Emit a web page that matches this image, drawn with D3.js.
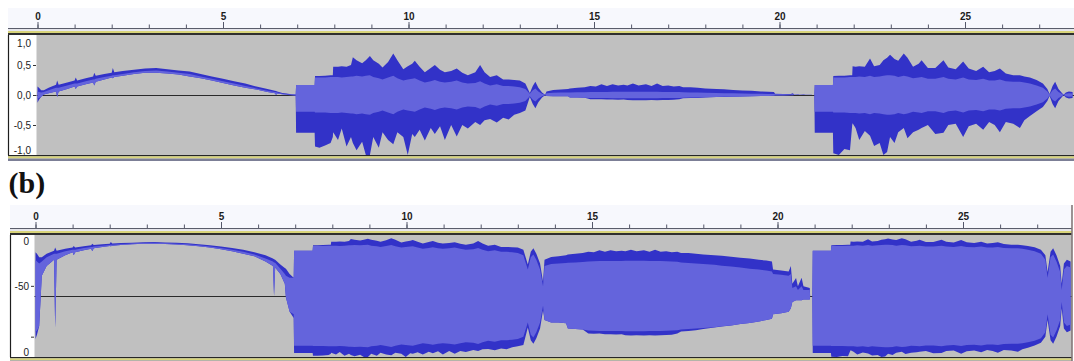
<!DOCTYPE html>
<html>
<head>
<meta charset="utf-8">
<script src="https://cdn.jsdelivr.net/npm/d3@7"></script>
<style>
  html, body { margin: 0; padding: 0; background: #ffffff; }
  svg { display: block; }
</style>
</head>
<body>
<svg id="chart" width="1074" height="361"></svg>
<script>
// ---- Recording envelope: one row per time column (seconds) ----
// peak maximum / minimum sample and RMS level, linear amplitude (-1..1)
const timeSec = [
  0.00,0.04,0.10,0.17,0.30,0.50,0.53,0.57,0.80,1.00,1.03,1.07,1.30,1.50,1.53,1.57,1.80,2.00,2.03,2.07,2.30,2.60,2.90,3.20,3.50,3.80,4.10,4.40,4.70,5.00,5.30,5.60,5.90,6.20,6.40,6.43,6.46,6.60,6.72,6.75,6.85,6.96,
  6.97,7.47,7.48,7.60,7.75,7.90,7.96,7.97,8.10,8.20,8.33,8.45,8.50,8.60,8.75,8.85,8.96,9.05,9.20,9.30,9.45,9.59,9.70,9.86,9.98,10.10,10.17,10.30,10.44,10.60,10.71,10.85,10.98,11.15,11.30,11.45,11.60,11.80,11.93,12.05,12.20,12.38,12.55,12.70,12.85,13.00,13.15,13.27,13.35,13.42,13.50,13.60,13.68,
  13.72,13.90,14.10,14.30,14.35,14.55,14.75,14.90,15.05,15.20,15.35,15.50,15.65,15.80,15.90,16.05,16.20,16.40,16.55,16.70,16.85,17.00,17.15,17.30,17.40,17.60,17.80,18.00,18.30,18.50,18.75,19.00,19.25,19.50,19.70,19.85,19.88,20.10,20.30,20.36,20.40,20.50,20.55,20.65,20.70,20.87,20.88,20.94,
  20.95,21.44,21.45,21.60,21.75,21.90,21.96,21.97,22.05,22.15,22.30,22.44,22.55,22.70,22.80,22.90,22.98,23.10,23.20,23.35,23.45,23.60,23.75,23.83,24.00,24.20,24.42,24.55,24.75,24.95,25.10,25.30,25.49,25.65,25.80,25.94,26.10,26.30,26.48,26.60,26.75,26.93,27.10,27.22,27.28,27.36,27.43,27.52,27.62,27.66,27.72,27.80,27.90
];
const peakMax = [
  .14,.12,.08,.08,.12,.17,.24,.17,.21,.24,.29,.24,.28,.31,.37,.32,.35,.37,.45,.38,.40,.42,.44,.45,.43,.41,.39,.35,.31,.27,.23,.19,.14,.10,.07,.065,.06,.035,.024,.022,.012,.008,
  .167,.167,.317,.317,.32,.33,.33,.47,.47,.48,.47,.50,.63,.58,.53,.58,.65,.58,.52,.46,.55,.69,.58,.43,.48,.52,.57,.47,.38,.45,.50,.42,.38,.40,.44,.37,.33,.38,.50,.38,.30,.33,.26,.26,.25,.24,.19,.035,.15,.22,.12,.04,.005,
  .06,.083,.09,.10,.11,.12,.13,.15,.14,.18,.15,.18,.16,.17,.16,.19,.16,.18,.15,.19,.15,.16,.14,.15,.13,.13,.12,.11,.10,.095,.085,.075,.07,.06,.055,.05,.02,.018,.016,.03,.004,.0077,.003,.0078,.003,.0025,0,0,
  .167,.167,.317,.32,.32,.33,.33,.48,.47,.48,.47,.61,.48,.50,.58,.62,.67,.60,.57,.69,.62,.47,.52,.58,.45,.45,.58,.46,.43,.56,.44,.40,.47,.38,.40,.44,.36,.33,.33,.31,.29,.25,.19,.10,.015,.15,.22,.10,.03,.004,.04,.06,.05
];
const peakMin = [
  -.13,-.08,-.03,.01,.03,.06,-.035,.06,.10,.14,.10,.14,.18,.21,.16,.22,.26,.29,.28,.30,.32,.35,.37,.37,.36,.34,.31,.28,.24,.20,.16,.12,.09,.05,.03,.0008,.025,.012,.004,-.0012,-.006,-.012,
  -.63,-.63,-.86,-.88,-.84,-.80,-.70,-.62,-.75,-.56,-.86,-.70,-.80,-.92,-.78,-1.0,-1.0,-.70,-.88,-.62,-.75,-.82,-.62,-.70,-1.0,-.65,-.70,-.58,-.76,-.55,-.65,-.52,-.75,-.50,-.69,-.50,-.56,-.45,-.50,-.42,-.40,-.46,-.38,-.41,-.33,-.30,-.26,-.035,-.15,-.22,-.12,-.04,-.005,
  -.015,-.02,-.02,-.022,-.04,-.042,-.045,-.07,-.072,-.07,-.075,-.075,-.078,-.076,-.085,-.088,-.086,-.088,-.085,-.088,-.084,-.082,-.08,-.07,-.055,-.052,-.048,-.042,-.035,-.032,-.028,-.024,-.021,-.018,-.015,-.013,-.008,-.007,-.006,-.004,-.002,-.0016,-.0016,-.0016,-.0015,-.0015,0,0,
  -.63,-.63,-.97,-1.0,-.90,-.92,-.50,-.47,-.55,-.75,-.60,-.68,-.85,-.80,-1.0,-.95,-.70,-.80,-.62,-.55,-.72,-.62,-.58,-.55,-.50,-.65,-.63,-.50,-.48,-.70,-.52,-.48,-.58,-.45,-.50,-.62,-.45,-.48,-.55,-.42,-.35,-.27,-.20,-.10,-.015,-.15,-.22,-.10,-.03,-.004,-.04,-.06,-.05
];
const rmsLevel = [
  .06,.05,.04,.05,.08,.12,.12,.12,.16,.19,.19,.19,.23,.26,.26,.27,.30,.32,.33,.33,.35,.38,.40,.41,.39,.37,.35,.31,.27,.23,.19,.15,.11,.07,.05,.045,.043,.022,.012,.01,.008,.008,
  .28,.28,.29,.29,.29,.30,.30,.30,.30,.29,.30,.31,.31,.32,.31,.32,.33,.30,.28,.26,.29,.32,.28,.24,.26,.27,.28,.24,.21,.23,.25,.22,.21,.22,.24,.21,.19,.20,.23,.19,.16,.18,.15,.15,.14,.13,.10,.02,.08,.11,.06,.02,.003,
  .03,.038,.04,.042,.043,.045,.047,.05,.051,.052,.052,.053,.053,.053,.054,.054,.054,.054,.053,.053,.052,.051,.05,.048,.045,.042,.04,.037,.034,.031,.028,.025,.022,.02,.018,.016,.012,.011,.01,.012,.0025,.003,.002,.003,.002,.002,0,0,
  .28,.28,.29,.29,.29,.30,.30,.30,.30,.31,.30,.32,.30,.31,.32,.33,.33,.32,.30,.32,.31,.28,.29,.30,.27,.27,.30,.27,.26,.29,.26,.25,.27,.24,.24,.26,.23,.22,.22,.21,.19,.16,.12,.06,.008,.08,.11,.05,.015,.002,.02,.03,.025
];

// ---- Axis ticks ----
const rulerSeconds = d3.range(0, 28);          // one tick per second
const rulerLabels = [0, 5, 10, 15, 20, 25];    // labelled seconds
const linearTicks = [1, 0.5, 0, -0.5, -1];
const dbTickLevels = [0, -50, -20, 0];         // dB
const dbTickSides  = [1, 1, -1, -1];           // upper / lower half
const dbTickLabels = ["0", "-50", "", "0"];
const dbFloor = -60;

// ---- Layout / style ----
const W = 1074;
const pxPerSec = 37.1;
const colPeak = "#3232c8";
const colRms = "#6464dc";
const colWaveBg = "#c0c0c0";
const colRulerBg = "#f7f8fd";
const uiFont = "'Liberation Sans', Arial, sans-serif";

const panels = [
  { key: "lin", x0: 37.5, rulerTop: 8, rulerBase: 28, waveTop: 35, waveBottom: 155,
    gutterLeft: 8, waveLeft: 36.5, waveRight: W, closed: false, mode: "linear" },
  { key: "db", x0: 35.5, rulerTop: 205, rulerBase: 228, waveTop: 235, waveBottom: 357,
    gutterLeft: 10, waveLeft: 34.5, waveRight: 1071.5, closed: true, mode: "db" }
];

const svg = d3.select("#chart");
const defs = svg.append("defs");

const rows = timeSec.map((t, i) => ({ t, hi: peakMax[i], lo: peakMin[i], rms: rmsLevel[i] }));

const commaFmt = d3.formatLocale({ decimal: ",", thousands: ".", grouping: [3], currency: ["", ""], minus: "-" }).format(".1f");

panels.forEach(p => {
  const g = svg.append("g").attr("class", "panel-" + p.key);
  const x = d3.scaleLinear().domain([0, 27]).range([p.x0, p.x0 + 27 * pxPerSec]);

  // ruler background
  g.append("rect").attr("x", p.gutterLeft).attr("y", p.rulerTop)
    .attr("width", p.waveRight - p.gutterLeft).attr("height", p.rulerBase - p.rulerTop)
    .attr("fill", colRulerBg);

  // minor ruler ticks
  const minor = g.append("g").attr("transform", `translate(0,${p.rulerBase})`)
    .call(d3.axisTop(x).tickValues(rulerSeconds).tickSize(3.5).tickFormat(""));
  minor.select(".domain").remove();
  minor.selectAll(".tick line").attr("stroke", "#55586a");

  // labelled ruler ticks
  const major = g.append("g").attr("transform", `translate(0,${p.rulerBase})`)
    .call(d3.axisTop(x).tickValues(rulerLabels).tickSize(6).tickPadding(2).tickFormat(d3.format("d")));
  major.select(".domain").remove();
  major.selectAll(".tick line").attr("stroke", "#55586a");
  major.selectAll(".tick text").attr("font-family", uiFont).attr("font-size", 10)
    .attr("font-weight", "bold").attr("fill", "#1c1c1c");

  // separator bands under the ruler
  const bandsTop = [[0, 1.2, "#5a5d6b"], [1.2, 1.8, "#e6e6ee"], [3, 2, "#d8d47a"], [5, 2, "#2e2e2e"]];
  bandsTop.forEach(([dy, h, c]) => {
    g.append("rect").attr("x", p.gutterLeft).attr("y", p.rulerBase + dy)
      .attr("width", p.waveRight - p.gutterLeft).attr("height", h).attr("fill", c);
  });
  const bandsBottom = [[0, 1.4, "#262626"], [1.4, 2.1, "#d8d47a"], [3.5, 2.5, "#7c7f96"]];
  bandsBottom.forEach(([dy, h, c]) => {
    g.append("rect").attr("x", p.gutterLeft).attr("y", p.waveBottom + dy)
      .attr("width", p.waveRight - p.gutterLeft).attr("height", h).attr("fill", c);
  });

  // label gutter and wave background
  g.append("rect").attr("x", p.gutterLeft).attr("y", p.waveTop)
    .attr("width", p.waveLeft - p.gutterLeft).attr("height", p.waveBottom - p.waveTop)
    .attr("fill", "#ffffff");
  g.append("line").attr("x1", p.gutterLeft + 0.5).attr("x2", p.gutterLeft + 0.5)
    .attr("y1", p.waveTop).attr("y2", p.waveBottom).attr("stroke", "#1e1e1e").attr("stroke-width", 1.2);
  g.append("rect").attr("x", p.waveLeft).attr("y", p.waveTop)
    .attr("width", p.waveRight - p.waveLeft).attr("height", p.waveBottom - p.waveTop)
    .attr("fill", colWaveBg);

  // vertical scale: linear amplitude or dB-folded amplitude
  const yNorm = d3.scaleLinear().domain([-1, 1]).range([p.waveBottom, p.waveTop]);
  const dbNorm = d3.scaleLinear().domain([dbFloor, 0]).range([0, 1]).clamp(true);
  const Y = p.mode === "linear"
    ? (v => yNorm(Math.max(-1, Math.min(1, v))))
    : (v => v === 0 ? yNorm(0) : yNorm(Math.sign(v) * dbNorm(20 * Math.log10(Math.abs(v)))));

  // centre line
  g.append("line").attr("x1", p.waveLeft).attr("x2", p.waveRight)
    .attr("y1", Math.round(yNorm(0)) + 0.5).attr("y2", Math.round(yNorm(0)) + 0.5)
    .attr("stroke", "#2a2a2a").attr("stroke-width", 1);

  // waveform
  const clipId = "clip-" + p.key;
  defs.append("clipPath").attr("id", clipId).append("rect")
    .attr("x", p.waveLeft).attr("y", p.waveTop)
    .attr("width", p.waveRight - p.waveLeft).attr("height", p.waveBottom - p.waveTop);
  const wave = g.append("g").attr("clip-path", `url(#${clipId})`);

  const peakArea = d3.area().x(d => x(d.t)).y0(d => Y(d.lo)).y1(d => Y(d.hi));
  const rmsArea = d3.area().x(d => x(d.t))
    .y0(d => { const lo = Math.max(d.lo, -d.rms); const hi = Math.min(d.hi, d.rms); return Y(Math.min(lo, hi)); })
    .y1(d => Y(Math.min(d.hi, d.rms)));

  wave.append("path").datum(rows).attr("d", peakArea).attr("fill", colPeak);
  wave.append("path").datum(rows).attr("d", rmsArea).attr("fill", colRms);

  // vertical axis
  const axisG = g.append("g").attr("transform", `translate(${p.waveLeft - 0.5},0)`)
    .attr("font-family", uiFont);
  if (p.mode === "linear") {
    const ax = d3.axisLeft(yNorm).tickValues(linearTicks).tickSize(3).tickPadding(2).tickFormat(commaFmt);
    axisG.call(ax);
    axisG.selectAll(".tick").each(function (d) {
      const t = d3.select(this);
      if (Math.abs(d) === 1) {
        t.select("line").remove();
        t.select("text").attr("dy", d > 0 ? "1.15em" : "-0.2em");
      }
    });
  } else {
    const tickNorm = dbTickLevels.map((lv, i) => dbTickSides[i] * dbNorm(lv));
    const ax = d3.axisLeft(yNorm).tickValues(tickNorm).tickSize(3).tickPadding(2)
      .tickFormat((d, i) => dbTickLabels[i]);
    axisG.call(ax);
    axisG.selectAll(".tick").each(function (d) {
      const t = d3.select(this);
      if (Math.abs(d) === 1) {
        t.select("line").remove();
        t.select("text").attr("dy", d > 0 ? "0.95em" : "-0.2em");
      }
    });
  }
  axisG.select(".domain").remove();
  axisG.selectAll(".tick text").attr("font-size", 10).attr("fill", "#1c1c1c");
  axisG.selectAll(".tick line").attr("stroke", "#333");

  if (p.closed) {
    g.append("line").attr("x1", p.waveRight + 0.5).attr("x2", p.waveRight + 0.5)
      .attr("y1", p.rulerTop).attr("y2", 361).attr("stroke", "#5a4c4c").attr("stroke-width", 1.2);
  }
});

// panel caption
svg.append("text").attr("x", 8.5).attr("y", 193)
  .attr("font-family", "'Liberation Serif', 'DejaVu Serif', serif")
  .attr("font-weight", "bold").attr("font-size", 30).attr("fill", "#111")
  .text("(b)");
</script>
</body>
</html>
